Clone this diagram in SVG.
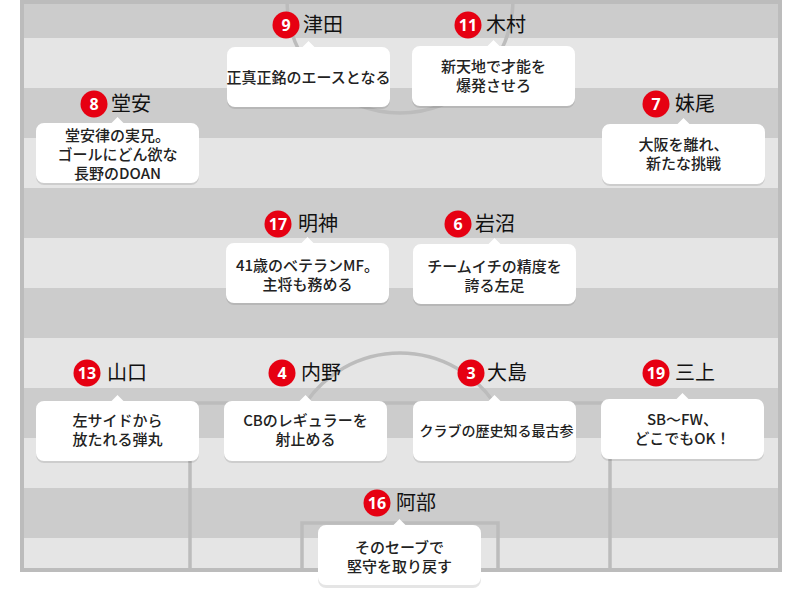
<svg xmlns="http://www.w3.org/2000/svg" width="800" height="604" viewBox="0 0 800 604">
<style>
.light{fill:#e5e5e5}
.dark{fill:#cccccc}
.line{fill:none;stroke:#bcbcbc;stroke-width:3.5}
.num{fill:#e60012}
.numt{font-family:"Noto Sans","DejaVu Sans",sans-serif;font-weight:700;font-size:16px;fill:#fff;text-anchor:middle}
.name{font-family:"Noto Sans CJK JP","Noto Sans",sans-serif;font-size:20px;fill:#111}
.bub{fill:#fff}
.shadow{fill:#000;fill-opacity:0.1}
.txt{font-family:"Noto Sans CJK JP","Noto Sans",sans-serif;font-size:15px;font-weight:500;fill:#222;text-anchor:middle}
</style>
<defs>
<path id="bubble" d="M8,0 H75.5 L81.5,-6 L87.5,0 H155 A8,8 0 0 1 163,8 V52 A8,8 0 0 1 155,60 H8 A8,8 0 0 1 0,52 V8 A8,8 0 0 1 8,0 Z"/>
<clipPath id="pitchclip"><rect x="22" y="2" width="758" height="568"/></clipPath>
</defs>
<rect width="800" height="604" fill="#fff"/>
<g id="pitch">
<rect class="light" x="22" y="2" width="758" height="568"/>
<rect class="dark" x="22" y="2" width="758" height="36"/>
<rect class="dark" x="22" y="88" width="758" height="50"/>
<rect class="dark" x="22" y="188" width="758" height="50"/>
<rect class="dark" x="22" y="288" width="758" height="50"/>
<rect class="dark" x="22" y="388" width="758" height="50"/>
<rect class="dark" x="22" y="488" width="758" height="50"/>
<g clip-path="url(#pitchclip)">
<circle class="line" cx="400" cy="0" r="113"/>
<path class="line" d="M305.7,403 A114,114 0 0 1 494.3,403"/>
<path class="line" d="M190,570 V403 H610 V570"/>
<path class="line" d="M302,570 V523 H498 V570"/>
</g>
<rect x="22" y="2" width="758" height="568" fill="none" stroke="#bcbcbc" stroke-width="4"/>
</g>
<g id="connectors"></g>

<g id="node-9">
<use href="#bubble" class="shadow" x="227" y="49"/>
<use href="#bubble" class="bub" x="227" y="47"/>
<circle class="num" cx="286" cy="25" r="13.5"/>
<text class="numt" x="286" y="30.8">9</text>
<text class="name" x="303" y="32">津田</text>
<text class="txt" x="308.5" y="82.5">正真正銘のエースとなる</text>
</g>

<g id="node-11">
<use href="#bubble" class="shadow" x="412" y="48"/>
<use href="#bubble" class="bub" x="412" y="46"/>
<circle class="num" cx="468" cy="25" r="13.5"/>
<text class="numt" x="468" y="30.8">11</text>
<text class="name" x="486" y="32">木村</text>
<text class="txt" x="493.5" y="72.3">新天地で才能を</text>
<text class="txt" x="493.5" y="91.3">爆発させろ</text>
</g>

<g id="node-8">
<use href="#bubble" class="shadow" x="36" y="125"/>
<use href="#bubble" class="bub" x="36" y="123"/>
<circle class="num" cx="94" cy="104" r="13.5"/>
<text class="numt" x="94" y="109.8">8</text>
<text class="name" x="111" y="111">堂安</text>
<text class="txt" x="117.5" y="141.3">堂安律の実兄。</text>
<text class="txt" x="117.5" y="160.3">ゴールにどん欲な</text>
<text class="txt" x="117.5" y="179.3">長野のDOAN</text>
</g>

<g id="node-7">
<use href="#bubble" class="shadow" x="602" y="126"/>
<use href="#bubble" class="bub" x="602" y="124"/>
<circle class="num" cx="656" cy="104" r="13.5"/>
<text class="numt" x="656" y="109.8">7</text>
<text class="name" x="675" y="111">妹尾</text>
<text class="txt" x="683.5" y="150.3">大阪を離れ、</text>
<text class="txt" x="683.5" y="169.3">新たな挑戦</text>
</g>

<g id="node-17">
<use href="#bubble" class="shadow" x="226" y="245"/>
<use href="#bubble" class="bub" x="226" y="243"/>
<circle class="num" cx="278" cy="224" r="13.5"/>
<text class="numt" x="278" y="229.8">17</text>
<text class="name" x="298" y="231">明神</text>
<text class="txt" x="307.5" y="271.3">41歳のベテランMF。</text>
<text class="txt" x="307.5" y="290.3">主将も務める</text>
</g>

<g id="node-6">
<use href="#bubble" class="shadow" x="413" y="246"/>
<use href="#bubble" class="bub" x="413" y="244"/>
<circle class="num" cx="458" cy="224" r="13.5"/>
<text class="numt" x="458" y="229.8">6</text>
<text class="name" x="475" y="231">岩沼</text>
<text class="txt" x="494.5" y="272.3">チームイチの精度を</text>
<text class="txt" x="494.5" y="291.3">誇る左足</text>
</g>

<g id="node-13">
<use href="#bubble" class="shadow" x="36" y="403"/>
<use href="#bubble" class="bub" x="36" y="401"/>
<circle class="num" cx="87" cy="373" r="13.5"/>
<text class="numt" x="87" y="378.8">13</text>
<text class="name" x="107" y="380">山口</text>
<text class="txt" x="117.5" y="426.3">左サイドから</text>
<text class="txt" x="117.5" y="445.3">放たれる弾丸</text>
</g>

<g id="node-4">
<use href="#bubble" class="shadow" x="224" y="403"/>
<use href="#bubble" class="bub" x="224" y="401"/>
<circle class="num" cx="282" cy="373" r="13.5"/>
<text class="numt" x="282" y="378.8">4</text>
<text class="name" x="301" y="380">内野</text>
<text class="txt" x="305.5" y="426.3">CBのレギュラーを</text>
<text class="txt" x="305.5" y="445.3">射止める</text>
</g>

<g id="node-3">
<use href="#bubble" class="shadow" x="413" y="403"/>
<use href="#bubble" class="bub" x="413" y="401"/>
<circle class="num" cx="471" cy="373" r="13.5"/>
<text class="numt" x="471" y="378.8">3</text>
<text class="name" x="487" y="380">大島</text>
<text class="txt" x="496.5" y="436" style="font-size:14px">クラブの歴史知る最古参</text>
</g>

<g id="node-19">
<use href="#bubble" class="shadow" x="601" y="401"/>
<use href="#bubble" class="bub" x="601" y="399"/>
<circle class="num" cx="656" cy="373" r="13.5"/>
<text class="numt" x="656" y="378.8">19</text>
<text class="name" x="675" y="380">三上</text>
<text class="txt" x="682.5" y="425.3">SB〜FW、</text>
<text class="txt" x="682.5" y="444.3">どこでもOK！</text>
</g>

<g id="node-16">
<use href="#bubble" class="shadow" x="318" y="528"/>
<use href="#bubble" class="bub" x="318" y="525"/>
<circle class="num" cx="377" cy="503" r="13.5"/>
<text class="numt" x="377" y="508.8">16</text>
<text class="name" x="396" y="510">阿部</text>
<text class="txt" x="399.5" y="553.3">そのセーブで</text>
<text class="txt" x="399.5" y="572.3">堅守を取り戻す</text>
</g>
</svg>
